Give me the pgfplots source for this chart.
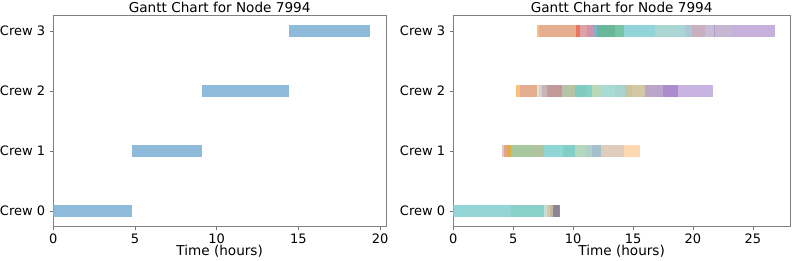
\documentclass[border=0pt]{standalone}
\usepackage{pgfplots}
\pgfplotsset{compat=1.18}
\usepackage{fontspec}
\setmainfont{DejaVu Sans}
\newcommand\dc[1]{\definecolor{c#1}{HTML}{#1}}
\dc{8FBBDA}
% crew 3
\dc{FDC08A}\dc{E5AE8E}\dc{EA7660}\dc{DCA2A6}\dc{CF93AB}\dc{80B4CC}\dc{6AB89C}\dc{78C4A4}
\dc{93D4DA}\dc{A9D6D2}\dc{ADC6D8}\dc{C8B0C0}\dc{C8BCD6}\dc{B0A0C8}\dc{C6B8D4}\dc{C6B0DC}
% crew 2
\dc{FDBF80}\dc{E3AE8F}\dc{E6E0E0}\dc{D4D0D0}\dc{C9B5B5}\dc{C39A9A}\dc{C895A8}\dc{B5C4A4}
\dc{80CAC0}\dc{88CFC4}\dc{B8D8B8}\dc{AADAD6}\dc{A8D4D0}\dc{C9C4A0}\dc{D4C8A4}\dc{B9A6C8}
\dc{AC8CCC}\dc{C8B4E0}
% crew 1
\dc{E0C8C8}\dc{E4A488}\dc{D8B048}\dc{A8C8A0}\dc{B0C4A0}\dc{90D6D6}\dc{84CEC8}\dc{B4D8BC}
\dc{B0D0C8}\dc{A4C0CC}\dc{E0CCBC}\dc{FDD8B0}
% crew 0
\dc{94D6D8}\dc{88D0C8}\dc{C8E0D0}\dc{D8C8A8}\dc{C0B8A0}\dc{8C8494}\dc{78A860}
\newcommand\seg[4]{\addplot[draw=c#4, line width=11.99pt, forget plot] coordinates {(#2,#1) (#3,#1)};}
\pgfplotsset{
  gantt/.style={
    scale only axis, height=211pt, anchor=south west,
    ymin=-0.26, ymax=3.26, xmin=0,
    ytick={0,1,2,3},
    yticklabels={Crew 0,Crew 1,Crew 2,Crew 3},
    tick pos=left, tick align=outside,
    major tick length=3.5pt,
    every tick/.style={draw=black!55, line width=0.6pt},
    axis line style={draw=black!50, line width=0.7pt},
    /pgf/number format/assume math mode=true,
    ticklabel style={font=\fontsize{13}{15}\selectfont},
    yticklabel style={anchor=east, inner sep=0pt, xshift=-4.5pt},
    xticklabel style={anchor=base, inner sep=0pt, yshift=-13.3pt},
    title style={font=\fontsize{13.6}{16}\selectfont, anchor=base, at={(axis description cs:0.5,1)}, yshift=-3.4pt, inner sep=0pt},
    xlabel style={font=\fontsize{13.6}{16}\selectfont, anchor=base, at={(axis description cs:0.5,0)}, yshift=-28.5pt, inner sep=0pt},
    title={Gantt Chart for Node 7994},
    xlabel={Time (hours)},
  }
}
\begin{document}
\begin{tikzpicture}
\useasboundingbox (0,0) rectangle (793pt,260pt);
\begin{axis}[gantt, at={(53.3pt,33.5pt)}, width=332.7pt, xmax=20.36, xtick={0,5,10,15,20}]
\seg{0}{0}{4.84}{8FBBDA}
\seg{1}{4.84}{9.12}{8FBBDA}
\seg{2}{9.12}{14.41}{8FBBDA}
\seg{3}{14.41}{19.39}{8FBBDA}
\end{axis}
\begin{axis}[gantt, at={(453.3pt,33.5pt)}, width=336.7pt, xmax=28.1, xtick={0,5,10,15,20,25}]
% crew 3
\seg{3}{6.97}{7.16}{FDC08A}
\seg{3}{7.16}{10.28}{E5AE8E}
\seg{3}{10.28}{10.58}{EA7660}
\seg{3}{10.58}{11.12}{DCA2A6}
\seg{3}{11.12}{11.62}{CF93AB}
\seg{3}{11.62}{12.00}{80B4CC}
\seg{3}{12.00}{13.47}{6AB89C}
\seg{3}{13.47}{14.22}{78C4A4}
\seg{3}{14.22}{16.81}{93D4DA}
\seg{3}{16.81}{19.31}{A9D6D2}
\seg{3}{19.31}{19.92}{ADC6D8}
\seg{3}{19.92}{20.97}{C8B0C0}
\seg{3}{20.97}{21.72}{C8BCD6}
\seg{3}{21.72}{21.83}{B0A0C8}
\seg{3}{21.83}{23.28}{C6B8D4}
\seg{3}{23.28}{26.81}{C6B0DC}
% crew 2
\seg{2}{5.20}{5.56}{FDBF80}
\seg{2}{5.56}{6.97}{E3AE8F}
\seg{2}{6.97}{7.16}{E6E0E0}
\seg{2}{7.16}{7.39}{D4D0D0}
\seg{2}{7.39}{7.83}{C9B5B5}
\seg{2}{7.83}{8.83}{C39A9A}
\seg{2}{8.83}{9.08}{C895A8}
\seg{2}{9.08}{10.14}{B5C4A4}
\seg{2}{10.14}{11.11}{80CAC0}
\seg{2}{11.11}{11.61}{88CFC4}
\seg{2}{11.61}{12.36}{B8D8B8}
\seg{2}{12.36}{13.47}{AADAD6}
\seg{2}{13.47}{14.31}{A8D4D0}
\seg{2}{14.31}{14.92}{C9C4A0}
\seg{2}{14.92}{15.97}{D4C8A4}
\seg{2}{15.97}{17.50}{B9A6C8}
\seg{2}{17.50}{18.75}{AC8CCC}
\seg{2}{18.75}{21.67}{C8B4E0}
% crew 1
\seg{1}{4.03}{4.22}{E0C8C8}
\seg{1}{4.22}{4.50}{E4A488}
\seg{1}{4.50}{4.78}{D8B048}
\seg{1}{4.78}{6.51}{A8C8A0}
\seg{1}{6.51}{7.58}{B0C4A0}
\seg{1}{7.58}{9.17}{90D6D6}
\seg{1}{9.17}{10.14}{84CEC8}
\seg{1}{10.14}{11.11}{B4D8BC}
\seg{1}{11.11}{11.61}{B0D0C8}
\seg{1}{11.61}{12.31}{A4C0CC}
\seg{1}{12.31}{14.25}{E0CCBC}
\seg{1}{14.25}{15.56}{FDD8B0}
% crew 0
\seg{0}{0}{4.78}{94D6D8}
\seg{0}{4.78}{7.58}{88D0C8}
\seg{0}{7.58}{7.78}{C8E0D0}
\seg{0}{7.78}{8.06}{D8C8A8}
\seg{0}{8.06}{8.33}{C0B8A0}
\seg{0}{8.33}{8.78}{8C8494}
\seg{0}{8.78}{8.94}{78A860}
\end{axis}
\end{tikzpicture}
\end{document}
